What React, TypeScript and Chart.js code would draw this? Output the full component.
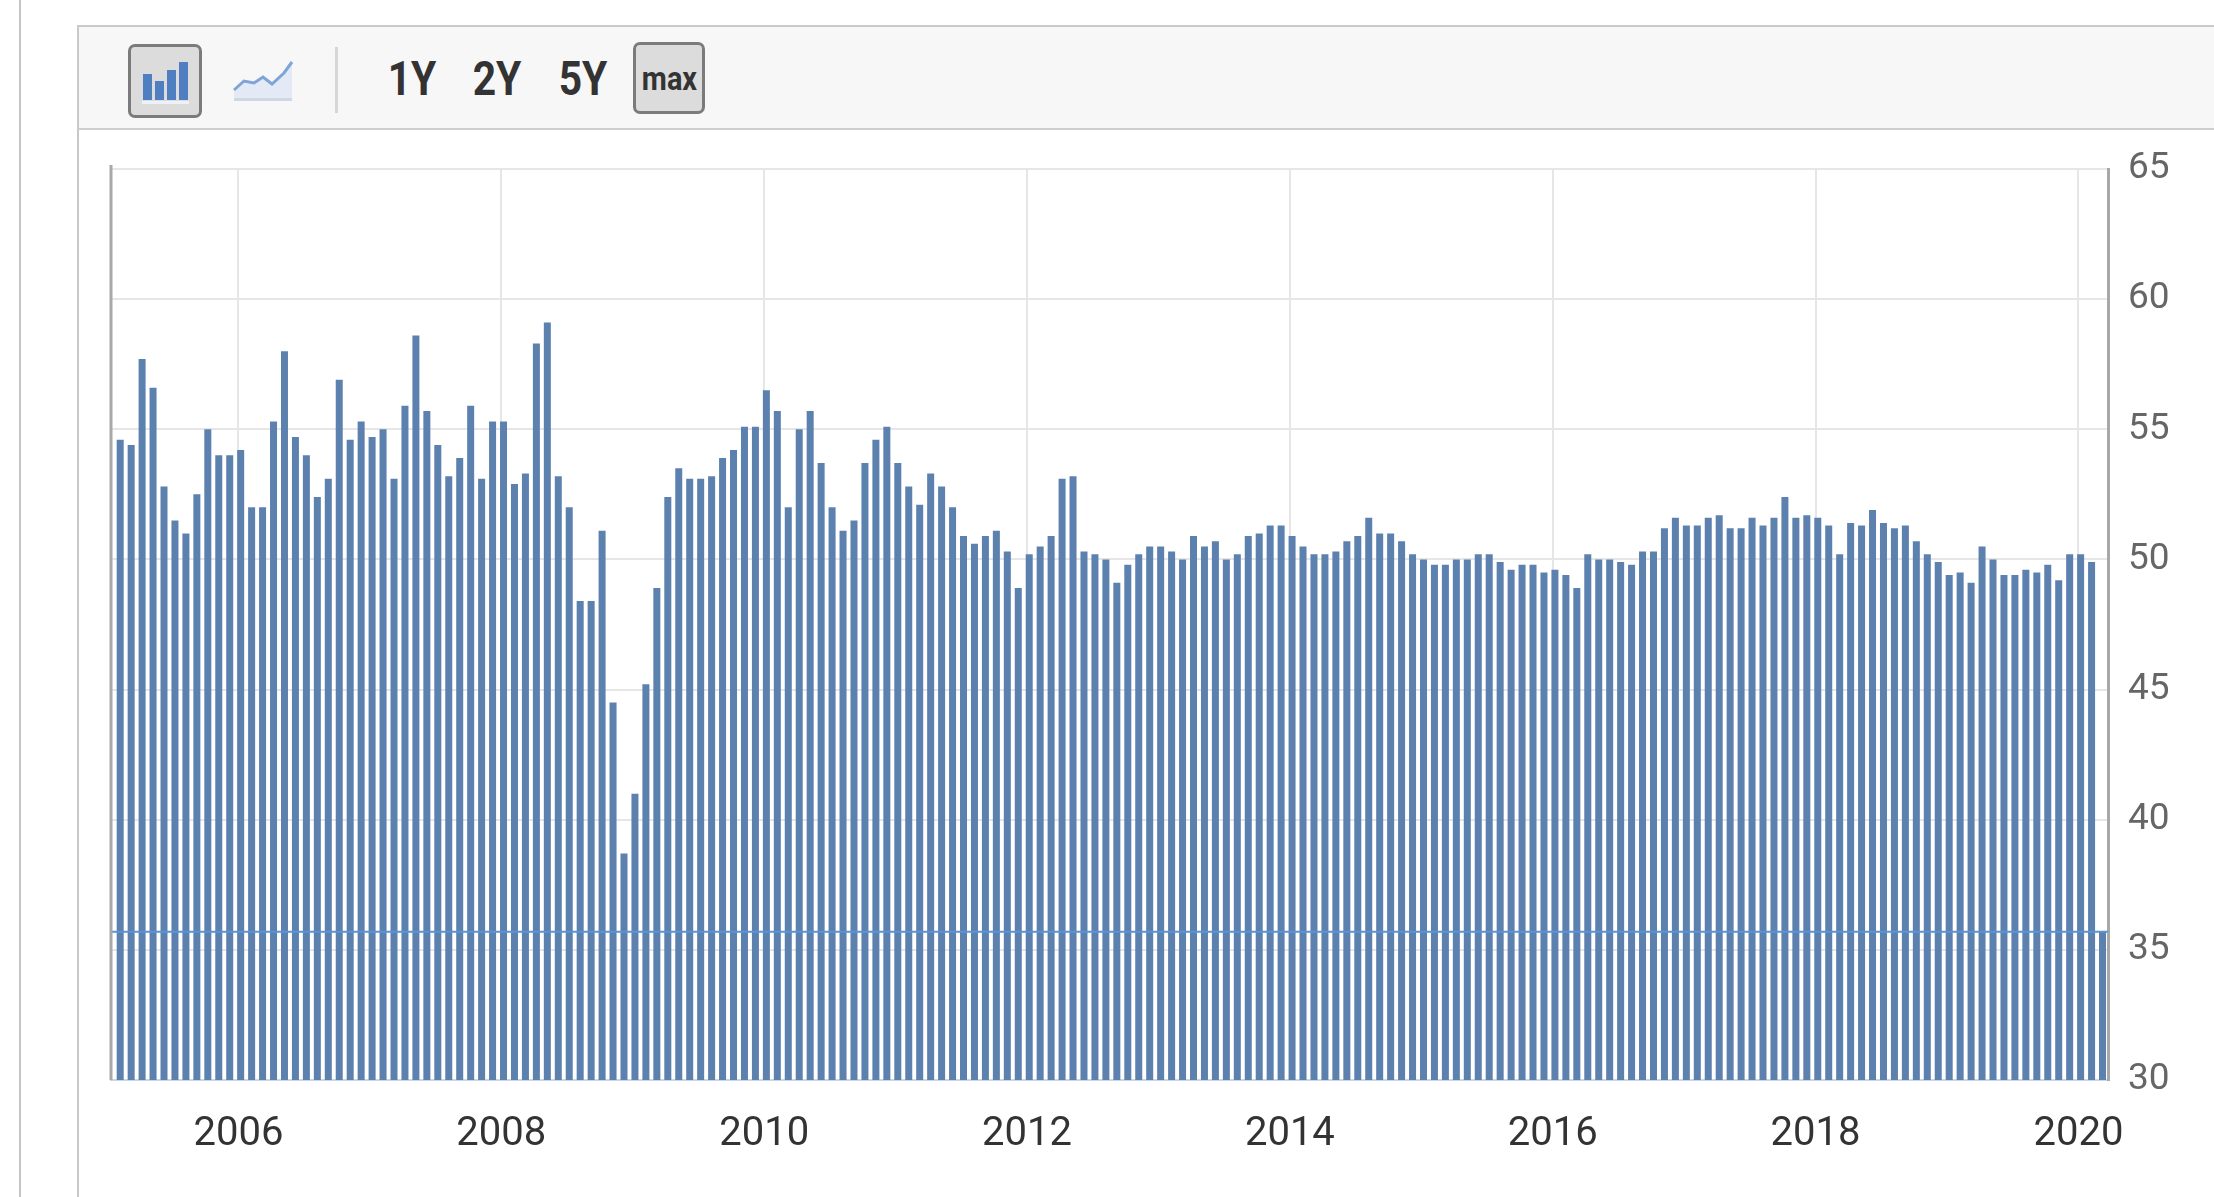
import { useEffect, useRef } from 'react';
import Chart from 'chart.js/auto';

// monthly readings, Jan 2005 .. Feb 2020
const startYear = 2005;
const pmiValues = [
  54.6, 54.4, 57.7, 56.6, 52.8, 51.5, 51.0, 52.5, 55.0, 54.0, 54.0, 54.2, // 2005
  52.0, 52.0, 55.3, 58.0, 54.7, 54.0, 52.4, 53.1, 56.9, 54.6, 55.3, 54.7, // 2006
  55.0, 53.1, 55.9, 58.6, 55.7, 54.4, 53.2, 53.9, 55.9, 53.1, 55.3, 55.3, // 2007
  52.9, 53.3, 58.3, 59.1, 53.2, 52.0, 48.4, 48.4, 51.1, 44.5, 38.7, 41.0, // 2008
  45.2, 48.9, 52.4, 53.5, 53.1, 53.1, 53.2, 53.9, 54.2, 55.1, 55.1, 56.5, // 2009
  55.7, 52.0, 55.0, 55.7, 53.7, 52.0, 51.1, 51.5, 53.7, 54.6, 55.1, 53.7, // 2010
  52.8, 52.1, 53.3, 52.8, 52.0, 50.9, 50.6, 50.9, 51.1, 50.3, 48.9, 50.2, // 2011
  50.5, 50.9, 53.1, 53.2, 50.3, 50.2, 50.0, 49.1, 49.8, 50.2, 50.5, 50.5, // 2012
  50.3, 50.0, 50.9, 50.5, 50.7, 50.0, 50.2, 50.9, 51.0, 51.3, 51.3, 50.9, // 2013
  50.5, 50.2, 50.2, 50.3, 50.7, 50.9, 51.6, 51.0, 51.0, 50.7, 50.2, 50.0, // 2014
  49.8, 49.8, 50.0, 50.0, 50.2, 50.2, 49.9, 49.6, 49.8, 49.8, 49.5, 49.6, // 2015
  49.4, 48.9, 50.2, 50.0, 50.0, 49.9, 49.8, 50.3, 50.3, 51.2, 51.6, 51.3, // 2016
  51.3, 51.6, 51.7, 51.2, 51.2, 51.6, 51.3, 51.6, 52.4, 51.6, 51.7, 51.6, // 2017
  51.3, 50.2, 51.4, 51.3, 51.9, 51.4, 51.2, 51.3, 50.7, 50.2, 49.9, 49.4, // 2018
  49.5, 49.1, 50.5, 50.0, 49.4, 49.4, 49.6, 49.5, 49.8, 49.2, 50.2, 50.2, // 2019
  49.9, 35.7, // 2020
];
const yearLabels = ['2006', '2008', '2010', '2012', '2014', '2016', '2018', '2020'];
const rangeButtons = ['1Y', '2Y', '5Y'];

const barColor = '#5d81ae';
const lastValue = pmiValues[pmiValues.length - 1];

// left frame line + marker line at the latest reading
const extraLines = {
  id: 'extraLines',
  afterDatasetsDraw(chart: any) {
    const { ctx, chartArea } = chart;
    const y = chart.scales.y.getPixelForValue(lastValue);
    ctx.save();
    ctx.strokeStyle = '#5b93d3';
    ctx.lineWidth = 2;
    ctx.beginPath();
    ctx.moveTo(chartArea.left, y);
    ctx.lineTo(chartArea.right, y);
    ctx.stroke();
    ctx.strokeStyle = '#a8a8a8';
    ctx.lineWidth = 3;
    ctx.beginPath();
    ctx.moveTo(chartArea.left, chartArea.top - 4);
    ctx.lineTo(chartArea.left, chartArea.bottom);
    ctx.stroke();
    ctx.restore();
  },
};

const BarIcon = () => (
  <svg width="50" height="50" viewBox="0 0 50 50">
    <rect x="3" y="18" width="9" height="26" fill="#4f7fc0" />
    <rect x="15" y="25" width="9" height="19" fill="#4f7fc0" />
    <rect x="27" y="14" width="9" height="30" fill="#4f7fc0" />
    <rect x="39" y="6" width="9" height="38" fill="#4f7fc0" />
    <rect x="2" y="45" width="47" height="3" fill="#eef1f6" />
  </svg>
);

const LineIcon = () => (
  <svg width="62" height="48" viewBox="0 0 62 48">
    <path d="M2 34 L12 25 L22 27 L31 21 L40 28 L52 17 L60 6 L60 42 L2 42 Z" fill="#e3e9f5" />
    <path d="M2 34 L12 25 L22 27 L31 21 L40 28 L52 17 L60 6" fill="none" stroke="#7fa4d8" strokeWidth="3" />
    <rect x="2" y="42" width="58" height="3" fill="#cfd7e4" />
  </svg>
);

const App = () => {
  const canvasRef = useRef<HTMLCanvasElement>(null);
  const chartRef = useRef<Chart | null>(null);

  useEffect(() => {
    document.body.style.margin = '0';
    if (!canvasRef.current) return;
    if (chartRef.current) chartRef.current.destroy();

    const points = pmiValues.map((v, i) => ({ x: i, y: v }));

    chartRef.current = new Chart(canvasRef.current, {
      type: 'bar',
      data: {
        datasets: [
          {
            data: points,
            backgroundColor: barColor,
            borderWidth: 0,
            barPercentage: 0.64,
            categoryPercentage: 1,
          },
        ],
      },
      plugins: [extraLines],
      options: {
        animation: false,
        responsive: true,
        maintainAspectRatio: false,
        layout: { padding: { left: 111, top: 169, right: 0, bottom: 0 } },
        plugins: { legend: { display: false }, tooltip: { enabled: false } },
        scales: {
          x: {
            type: 'linear',
            offset: false,
            bounds: 'data',
            min: -0.84,
            max: 181.5,
            afterBuildTicks: (axis: any) => {
              // a year's gridline sits just before the December bar of the year before
              axis.ticks = yearLabels.map((y) => ({ value: (Number(y) - startYear) * 12 - 1.2 }));
            },
            afterFit: (axis: any) => {
              axis.height = 117;
            },
            ticks: {
              autoSkip: false,
              maxRotation: 0,
              padding: 31,
              color: '#333333',
              font: { family: 'Roboto', size: 40 },
              callback: (_v: any, i: number) => yearLabels[i],
            },
            grid: { color: '#e6e6e6', lineWidth: 2, drawTicks: false, offset: false },
            border: { color: '#ccd6eb', width: 2 },
          },
          y: {
            position: 'right',
            min: 30,
            max: 65,
            afterFit: (axis: any) => {
              axis.width = 106;
            },
            ticks: {
              stepSize: 5,
              padding: 20,
              color: '#666666',
              font: { family: 'Roboto', size: 37 },
            },
            grid: { color: '#e6e6e6', lineWidth: 2, drawTicks: false },
            border: { color: '#a8a8a8', width: 3 },
          },
        },
      },
    } as any);

    return () => {
      if (chartRef.current) {
        chartRef.current.destroy();
        chartRef.current = null;
      }
    };
  }, []);

  const btn: React.CSSProperties = {
    position: 'absolute',
    boxSizing: 'border-box',
    background: '#dcdcdc',
    border: '3px solid #7b7b7b',
    borderRadius: 7,
    display: 'flex',
    alignItems: 'center',
    justifyContent: 'center',
  };
  const rangeX = [412, 497, 583];

  return (
    <div
      style={{
        position: 'relative',
        width: 2214,
        height: 1197,
        overflow: 'hidden',
        background: '#ffffff',
        fontFamily: 'Roboto, sans-serif',
      }}
    >
      <div style={{ position: 'absolute', left: 19, top: 0, width: 2, height: 1197, background: '#c4c4c4' }} />
      <div
        style={{
          position: 'absolute',
          left: 77,
          top: 25,
          width: 2300,
          height: 1400,
          boxSizing: 'border-box',
          border: '2px solid #c9c9c9',
        }}
      />
      <div
        style={{
          position: 'absolute',
          left: 79,
          top: 27,
          width: 2200,
          height: 101,
          background: '#f7f7f7',
          borderBottom: '2px solid #cfcfcf',
        }}
      />
      <div style={{ ...btn, left: 128, top: 44, width: 74, height: 74 }}>
        <BarIcon />
      </div>
      <div style={{ position: 'absolute', left: 232, top: 56 }}>
        <LineIcon />
      </div>
      <div style={{ position: 'absolute', left: 335, top: 47, width: 3, height: 66, background: '#d6d6d6' }} />
      {rangeButtons.map((label, i) => (
        <div
          key={label}
          style={{
            position: 'absolute',
            left: rangeX[i] - 50,
            top: 50,
            width: 100,
            height: 58,
            lineHeight: '58px',
            textAlign: 'center',
            fontSize: 48,
            fontWeight: 700,
            color: '#333333',
            transform: 'scaleX(0.85)',
          }}
        >
          {label}
        </div>
      ))}
      <div style={{ ...btn, left: 633, top: 42, width: 72, height: 72 }}>
        <span style={{ fontSize: 34, fontWeight: 700, color: '#333333', transform: 'scaleX(0.85)', display: 'inline-block' }}>
          max
        </span>
      </div>
      <div style={{ position: 'absolute', left: 0, top: 0, width: 2214, height: 1197 }}>
        <canvas ref={canvasRef}></canvas>
      </div>
    </div>
  );
};

export default App;
